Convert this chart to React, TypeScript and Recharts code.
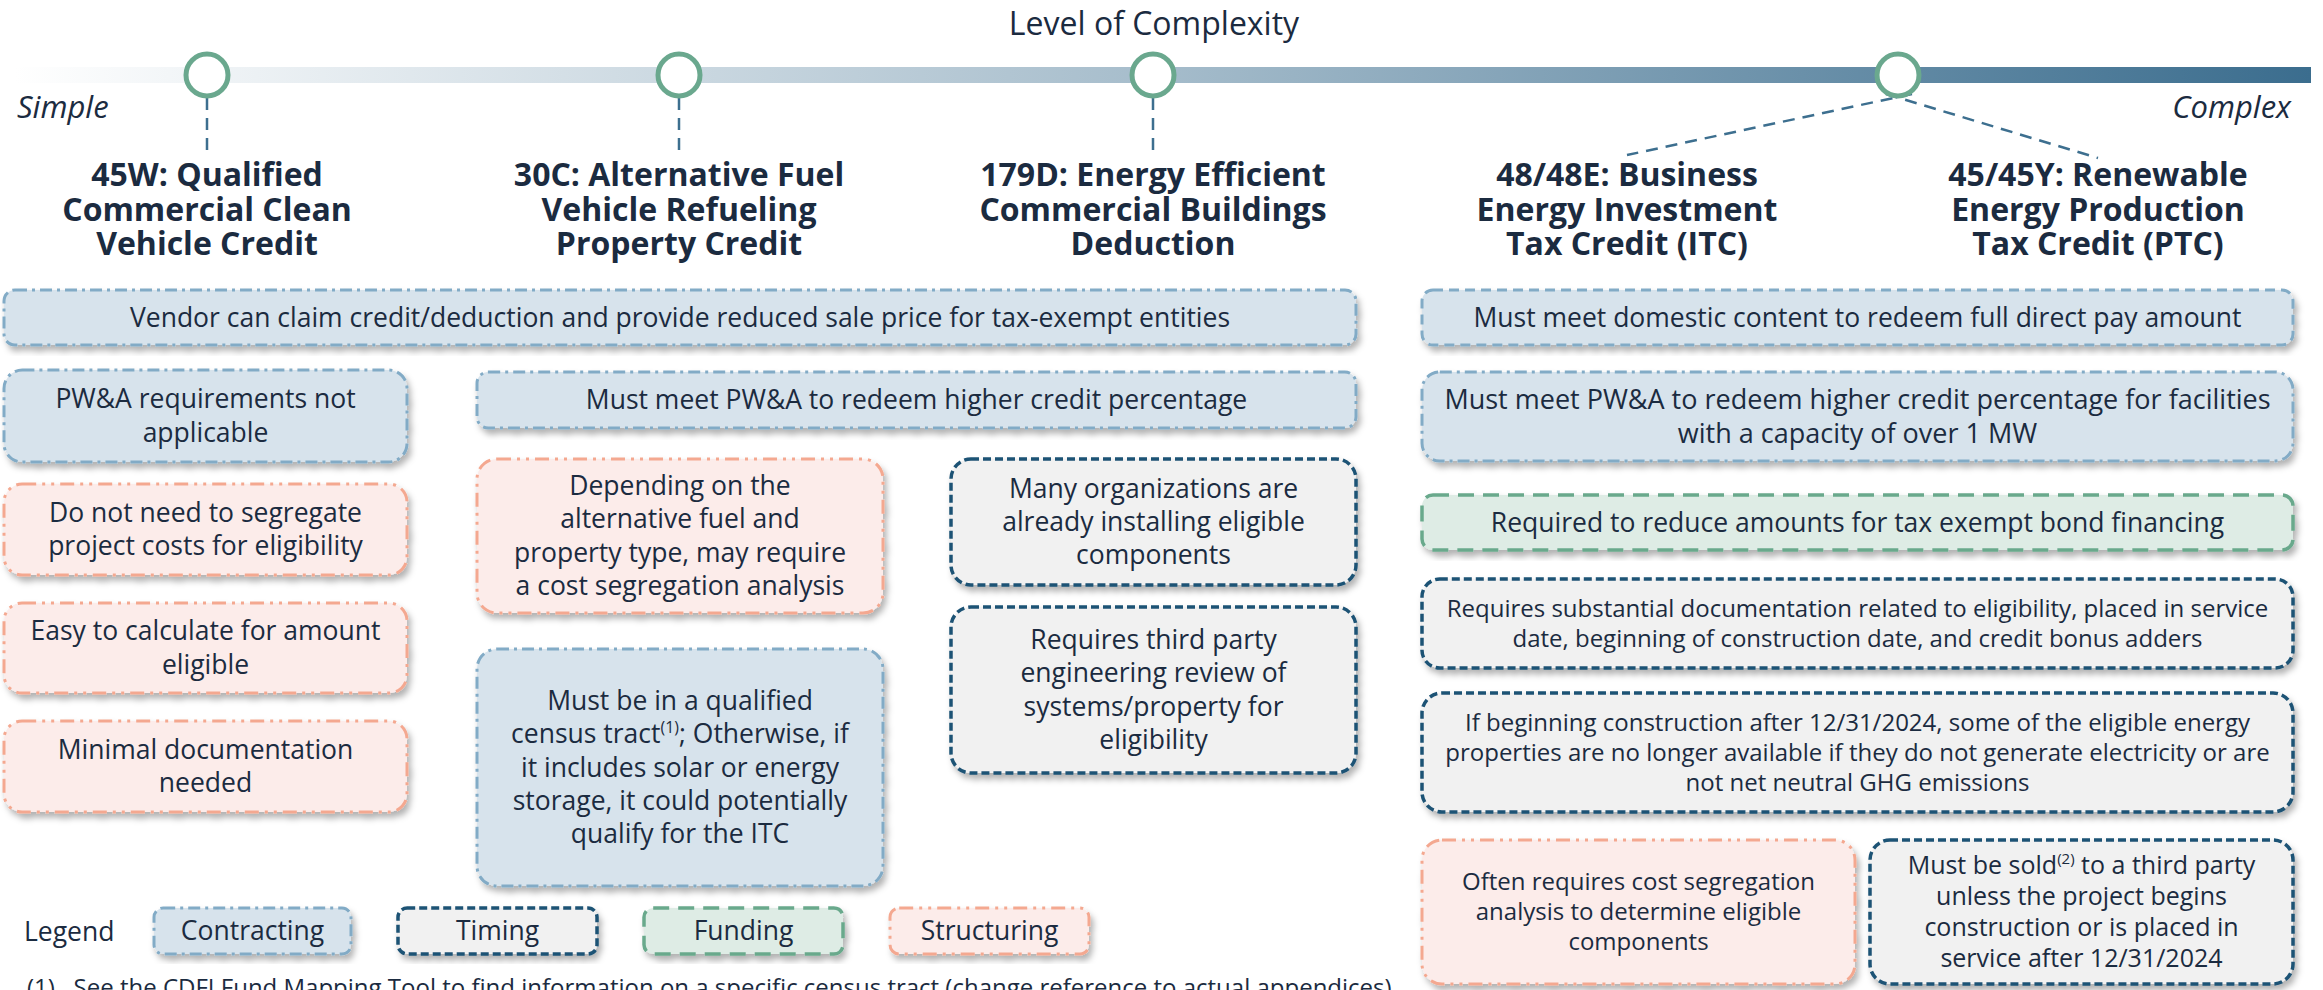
import React from 'react';
import { ComposedChart, XAxis, YAxis, Scatter, ReferenceArea, ReferenceLine, ReferenceDot } from 'recharts';

const W = 2323;
const H = 990;
const FONT = '"Open Sans", sans-serif';
const INK = '#1b2b40';

// ---- data ----
const axisTitle = 'Level of Complexity';
const scaleEnds = ['Simple', 'Complex'];
const complexityStops = [207, 679, 1153, 1898]; // position on the complexity scale
const creditStop = [0, 1, 2, 3, 3]; // which stop each credit hangs from
const creditTitles = [
  ['45W: Qualified', 'Commercial Clean', 'Vehicle Credit'],
  ['30C: Alternative Fuel', 'Vehicle Refueling', 'Property Credit'],
  ['179D: Energy Efficient', 'Commercial Buildings', 'Deduction'],
  ['48/48E: Business', 'Energy Investment', 'Tax Credit (ITC)'],
  ['45/45Y: Renewable', 'Energy Production', 'Tax Credit (PTC)'],
];
const categories = ['Contracting', 'Timing', 'Funding', 'Structuring'];

// ^...^ marks superscript
const boxTexts = [
  ['Vendor can claim credit/deduction and provide reduced sale price for tax-exempt entities'],
  ['Must meet domestic content to redeem full direct pay amount'],
  ['PW&A requirements not', 'applicable'],
  ['Must meet PW&A to redeem higher credit percentage'],
  ['Must meet PW&A to redeem higher credit percentage for facilities', 'with a capacity of over 1 MW'],
  ['Do not need to segregate', 'project costs for eligibility'],
  ['Easy to calculate for amount', 'eligible'],
  ['Minimal documentation', 'needed'],
  ['Depending on the', 'alternative fuel and', 'property type, may require', 'a cost segregation analysis'],
  ['Must be in a qualified', 'census tract^(1)^; Otherwise, if', 'it includes solar or energy', 'storage, it could potentially', 'qualify for the ITC'],
  ['Many organizations are', 'already installing eligible', 'components'],
  ['Requires third party', 'engineering review of', 'systems/property for', 'eligibility'],
  ['Required to reduce amounts for tax exempt bond financing'],
  ['Requires substantial documentation related to eligibility, placed in service', 'date, beginning of construction date, and credit bonus adders'],
  ['If beginning construction after 12/31/2024, some of the eligible energy', 'properties are no longer available if they do not generate electricity or are', 'not net neutral GHG emissions'],
  ['Often requires cost segregation', 'analysis to determine eligible', 'components'],
  ['Must be sold^(2)^ to a third party', 'unless the project begins', 'construction or is placed in', 'service after 12/31/2024'],
];
const boxCategory = [
  'Contracting', 'Contracting', 'Contracting', 'Contracting', 'Contracting',
  'Structuring', 'Structuring', 'Structuring', 'Structuring', 'Contracting',
  'Timing', 'Timing', 'Funding', 'Timing', 'Timing', 'Structuring', 'Timing',
];
const footnote = '(1)   See the CDFI Fund Mapping Tool to find information on a specific census tract (change reference to actual appendices)';

// ---- layout (px) ----
const titleX = [207, 679, 1153, 1627, 2098];
const boxFrames = [
  [4, 1356, 290, 345],
  [1422, 2293, 290, 345],
  [4, 407, 370, 462],
  [477, 1356, 372, 428],
  [1422, 2293, 372, 461],
  [4, 407, 484, 575],
  [4, 407, 603, 693],
  [4, 407, 721, 812],
  [477, 883, 459, 613],
  [477, 883, 649, 886],
  [951, 1356, 459, 585],
  [951, 1356, 607, 773],
  [1422, 2293, 495, 550],
  [1422, 2293, 579, 668],
  [1422, 2293, 693, 812],
  [1422, 1855, 840, 984],
  [1870, 2293, 840, 984],
];
const boxFont = [26.5, 26.5, 26.5, 26.5, 27, 26.5, 26.5, 26.5, 26.5, 26.5, 26.5, 26.5, 26.5, 24, 24, 24, 25];
const legendFrames = [[154, 351], [398, 597], [644, 843], [890, 1089]];

const STYLES: Record<string, { fill: string; stroke: string; dash: string; sw: number }> = {
  Contracting: { fill: '#d7e3ec', stroke: '#82abc6', dash: '12 5 3 5', sw: 3 },
  Timing: { fill: '#f1f1f1', stroke: '#1e5274', dash: '8 4', sw: 3.5 },
  Funding: { fill: '#deece5', stroke: '#69a98c', dash: '16 9', sw: 3.5 },
  Structuring: { fill: '#fcecea', stroke: '#f4a890', dash: '14 6 3 6 3 6', sw: 3 },
};
const dashOverride: Record<number, string> = { 1: '10 6' };

const lineParts = (line: string, fs: number) => {
  const parts = line.split('^');
  const out: React.ReactNode[] = [];
  parts.forEach((p, i) => {
    if (!p) return;
    if (i % 2 === 1) {
      out.push(<tspan key={i} fontSize={fs * 0.6} dy={-fs * 0.4}>{p}</tspan>);
    } else {
      out.push(<tspan key={i} dy={i > 0 ? fs * 0.4 : 0}>{p}</tspan>);
    }
  });
  return out;
};

const MultiText = ({ cx, cy, lines, fs, lh, weight = 400 }: any) => (
  <text x={cx} textAnchor="middle" fontFamily={FONT} fontSize={fs} fontWeight={weight} fill={INK}>
    {lines.map((l: string, i: number) => (
      <tspan key={i} x={cx} y={cy + (i - (lines.length - 1) / 2) * lh + fs * 0.34}>
        {lineParts(l, fs)}
      </tspan>
    ))}
  </text>
);

const Box = ({ p, cat, lines, fs, dash }: any) => {
  const s = STYLES[cat];
  const { x, y, width, height } = p;
  const rx = Math.min(20, height * 0.2);
  return (
    <g>
      <rect x={x} y={y} width={width} height={height} rx={rx} fill={s.fill} stroke={s.stroke}
        strokeWidth={s.sw} strokeDasharray={dash || s.dash} filter="url(#boxShadow)" />
      {lines && <MultiText cx={x + width / 2} cy={y + height / 2} lines={lines} fs={fs} lh={fs * 1.25} />}
    </g>
  );
};

const TimelineBar = (p: any) => (
  <g>
    <defs>
      <linearGradient id="complexGrad" x1="0" y1="0" x2="1" y2="0">
        <stop offset="0%" stopColor="#ffffff" />
        <stop offset="50%" stopColor="#a5bccb" />
        <stop offset="100%" stopColor="#3b6d8e" />
      </linearGradient>
      <filter id="boxShadow" x="-5%" y="-10%" width="112%" height="130%">
        <feDropShadow dx="3" dy="5" stdDeviation="3" floodColor="#000" floodOpacity="0.3" />
      </filter>
    </defs>
    <rect x={p.x} y={p.y} width={p.width} height={p.height} fill="url(#complexGrad)" />
  </g>
);

const StopCircle = (p: any) => (
  <circle cx={p.cx} cy={p.cy} r={21} fill="#fff" stroke="#6aa88e" strokeWidth={5} />
);

export default function App() {
  const stops = complexityStops.map((x) => ({ x, y: 75 }));
  return (
    <div style={{ position: 'absolute', left: 0, top: 0, width: W, height: H, background: '#fff' }}>
      <ComposedChart width={W} height={H} margin={{ top: 0, right: 0, bottom: 0, left: 0 }}>
        <XAxis type="number" dataKey="x" domain={[0, W]} hide allowDataOverflow />
        <YAxis type="number" dataKey="y" domain={[0, H]} reversed hide allowDataOverflow />

        <ReferenceArea x1={15} x2={2311} y1={67} y2={83} shape={TimelineBar} />

        {creditTitles.map((_, i) => {
          const sx = complexityStops[creditStop[i]];
          const tx = titleX[i];
          const shared = creditStop.filter((c) => c === creditStop[i]).length > 1;
          return (
            <ReferenceLine key={`conn-${i}`}
              segment={shared ? [{ x: sx + (tx < sx ? 14 : -12), y: 94 }, { x: tx, y: tx < sx ? 155 : 158 }] : [{ x: sx, y: 98 }, { x: tx, y: 150 }]}
              stroke="#3d6f8f" strokeWidth={2.5} strokeDasharray="12 8" />
          );
        })}

        <Scatter data={stops} shape={StopCircle} isAnimationActive={false} />

        <ReferenceDot x={1154} y={24} r={0} shape={(p: any) => (
          <text x={p.cx} y={p.cy + 11} textAnchor="middle" fontFamily={FONT} fontSize={32} fill={INK}>{axisTitle}</text>
        )} />
        <ReferenceDot x={17} y={107} r={0} shape={(p: any) => (
          <text x={p.cx} y={p.cy + 11} fontFamily={FONT} fontStyle="italic" fontSize={31} fill={INK}>{scaleEnds[0]}</text>
        )} />
        <ReferenceDot x={2291} y={107} r={0} shape={(p: any) => (
          <text x={p.cx} y={p.cy + 11} textAnchor="end" fontFamily={FONT} fontStyle="italic" fontSize={31} fill={INK}>{scaleEnds[1]}</text>
        )} />

        {creditTitles.map((lines, i) => (
          <ReferenceDot key={`title-${i}`} x={titleX[i]} y={210} r={0} shape={(p: any) => (
            <MultiText cx={p.cx} cy={p.cy} lines={lines} fs={32} lh={34.5} weight={700} />
          )} />
        ))}

        {boxTexts.map((lines, i) => {
          const [x1, x2, y1, y2] = boxFrames[i];
          return (
            <ReferenceArea key={`box-${i}`} x1={x1} x2={x2} y1={y1} y2={y2} shape={(p: any) => (
              <Box p={p} cat={boxCategory[i]} lines={lines} fs={boxFont[i]} dash={dashOverride[i]} />
            )} />
          );
        })}

        <ReferenceDot x={24} y={932} r={0} shape={(p: any) => (
          <text x={p.cx} y={p.cy + 9} fontFamily={FONT} fontSize={26.5} fill={INK}>Legend</text>
        )} />
        {categories.map((c, i) => (
          <ReferenceArea key={`leg-${i}`} x1={legendFrames[i][0]} x2={legendFrames[i][1]} y1={908} y2={954} shape={(p: any) => (
            <Box p={p} cat={c} lines={[c]} fs={26.5} />
          )} />
        ))}

        <ReferenceDot x={27} y={988} r={0} shape={(p: any) => (
          <text x={p.cx} y={p.cy + 8} fontFamily={FONT} fontSize={24} fill={INK} xmlSpace="preserve">{footnote}</text>
        )} />
      </ComposedChart>
    </div>
  );
}
